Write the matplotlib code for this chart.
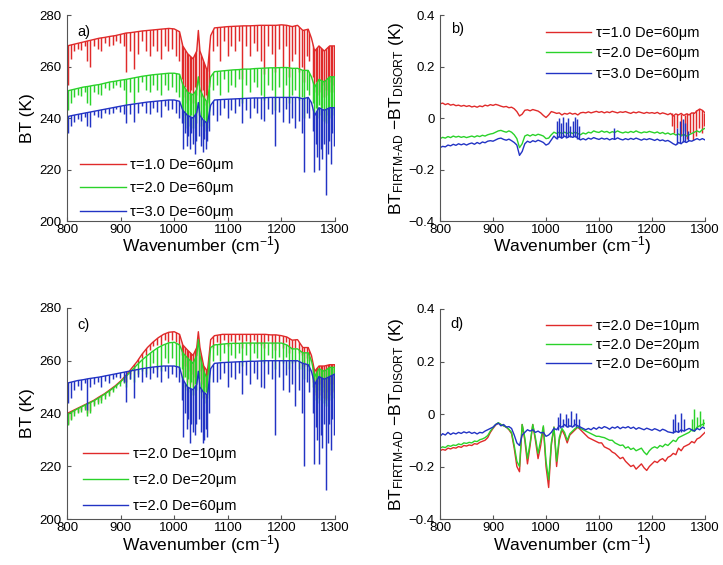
import matplotlib
matplotlib.use('Agg')
import matplotlib.pyplot as plt
from matplotlib.patches import Polygon

plt.rcParams['font.family'] = ['Liberation Sans', 'DejaVu Sans']
plt.rcParams['mathtext.fontset'] = 'custom'
plt.rcParams['mathtext.rm'] = 'Liberation Sans'
plt.rcParams['mathtext.it'] = 'Liberation Sans:italic'

# ---------------- data ----------------
# BT panels: smooth envelope on base_wn, absorption lines on lines_wn
base_wn = [800, 810, 820, 830, 840, 850, 860, 870, 880, 890,
           900, 910, 920, 930, 940, 950, 960, 970, 980, 990,
           1000, 1010, 1016, 1025, 1035, 1042, 1045, 1048, 1055, 1062,
           1068, 1075, 1090, 1100, 1110, 1120, 1130, 1140, 1150, 1160,
           1170, 1180, 1190, 1200, 1210, 1220, 1230, 1240, 1250, 1256,
           1262, 1270, 1280, 1290, 1300]

lines_wn = [802, 807, 813, 820, 827, 833, 838, 843, 850, 857,
            864, 871, 878, 885, 892, 899, 906, 910, 917, 925,
            932, 940, 947, 954, 961, 968, 975, 982, 989, 996,
            1003, 1009,
            1014, 1017, 1020, 1023, 1026, 1029, 1032, 1035, 1038, 1041,
            1047, 1050, 1053, 1056, 1059, 1062, 1065,
            1072, 1079, 1086, 1093, 1100, 1106, 1113, 1120, 1127, 1134,
            1141, 1148, 1155, 1162, 1168, 1175, 1182, 1188, 1195, 1202,
            1208, 1214, 1220, 1226, 1232, 1238, 1242, 1247, 1252,
            1258, 1261, 1264, 1267, 1270, 1273, 1276, 1279, 1283, 1286,
            1289, 1292, 1295, 1298]

# panel a) tau = 1, 2, 3, De = 60 um
a_red_base = [268, 268.5, 269, 269.5, 270, 270.5, 271, 271.3, 271.7, 272,
              272.5, 273, 273.2, 273.5, 273.8, 274, 274.2, 274.4, 274.6, 274.8,
              274.6, 273.5, 268, 265, 263, 266, 274, 266, 262, 258,
              272, 275, 275.3, 275.5, 275.6, 275.7, 275.8, 275.8, 275.9, 276,
              276, 276, 276, 276.2, 276, 275.5, 276, 274, 274.5, 271,
              266, 268, 266, 268, 268]
a_green_base = [250.5, 251, 251.5, 252, 252.3, 252.7, 253, 253.5, 254, 254.3,
                254.7, 255, 255.4, 255.8, 256.2, 256.5, 256.8, 257, 257.2, 257.4,
                257.4, 257, 253, 250, 249, 251, 256, 251, 248, 246,
                256, 258, 258.3, 258.5, 258.7, 258.8, 259, 259, 259.2, 259.3,
                259.4, 259.5, 259.5, 259.6, 259.6, 259.3, 259.3, 258.5, 258.5, 256,
                252, 255, 254, 256, 256]
a_blue_base = [240.5, 241, 241.4, 241.8, 242.2, 242.6, 243, 243.4, 243.8, 244.2,
               244.6, 245, 245.3, 245.6, 245.9, 246.2, 246.4, 246.6, 246.8, 247,
               247, 246.5, 243, 241, 240, 242, 246, 241, 239, 238,
               245, 247, 247.2, 247.3, 247.4, 247.5, 247.6, 247.7, 247.8, 247.8,
               247.9, 248, 248, 248, 248, 248, 248, 247.5, 248, 246,
               241, 244, 243, 244, 244]

a_red_low = [253, 263, 266, 267, 266.5, 268, 262, 260, 268, 267,
             266, 269, 268, 268.5, 270, 269, 268, 258, 266, 259,
             265, 270, 266, 264, 268, 266, 263, 268, 266, 267,
             264, 262,
             255, 248, 252, 246, 250, 247, 251, 246, 252, 249,
             253, 248, 251, 245, 249, 246, 252,
             266, 268, 262, 270, 264, 268, 266, 270, 255, 268,
             264, 269, 266, 262, 257, 268, 265, 258, 267, 260,
             268, 256, 262, 265, 258, 260, 254, 264, 262,
             256, 250, 254, 249, 255, 250, 253, 248, 251, 249,
             254, 250, 253, 250]
a_green_low = [243, 246, 248, 249, 248.5, 250, 246, 245, 250, 249.5,
               249, 251.5, 251, 251.5, 253, 252, 251, 245, 250, 246,
               250, 254, 251, 250, 253, 251, 249, 253, 251, 252,
               250, 248,
               244, 238, 241, 236, 240, 237, 241, 236, 240, 238,
               241, 237, 240, 235, 238, 236, 241,
               251, 253, 249, 255, 250, 253, 252, 255, 246, 253,
               250, 254, 252, 249, 247, 253, 251, 243, 252, 248,
               253, 246, 249, 251, 247, 248, 240, 251, 249,
               246, 241, 244, 240, 245, 241, 244, 239, 238, 241,
               244, 240, 244, 241]
a_blue_low = [234, 237, 238.5, 239.5, 239, 240.5, 237, 236.5, 241, 240.5,
              240, 242, 241.5, 242, 243.5, 242.5, 241.5, 238, 241.5, 238.5,
              242, 244.5, 242, 241.5, 244, 242.5, 240.5, 244.5, 243, 243.5,
              242, 240,
              238, 228, 234, 229, 233, 228, 234, 230, 226, 231,
              233, 229, 227, 232, 228, 231, 235,
              241, 239, 241, 244, 240, 243, 242, 244.5, 238, 243,
              240, 244, 242, 239.5, 239, 243.5, 241.5, 229, 242.5, 238.5,
              243.5, 238, 240, 236, 239, 234, 219, 242, 240,
              235, 219, 230, 225, 220, 228, 224, 230, 210, 226,
              231, 222, 234, 229]

# panel c) tau = 2, De = 10, 20, 60 um
c_red_base = [240, 241, 242, 243, 244, 245, 246.3, 247.5, 249, 250.5,
              252.3, 254.5, 257, 259.5, 262.5, 265, 267, 268.7, 270, 270.8,
              271, 270, 266, 264, 262, 265, 271, 265, 258, 256,
              268, 269.5, 270, 270, 270, 270, 270, 270, 270, 270,
              270, 269.8, 269.8, 269.5, 269, 267.8, 268, 265, 265, 262,
              256, 258, 258, 258.5, 258.5]
c_green_base = [239.5, 240.7, 241.8, 242.8, 243.8, 244.8, 246, 247.3, 248.7, 250.2,
                252, 254, 256.2, 258.3, 260.3, 262, 263.6, 265, 266, 266.8,
                267, 266, 263, 261, 259, 262, 268, 262, 256, 253,
                265, 266, 266.3, 266.5, 266.6, 266.6, 266.7, 266.7, 266.7, 266.7,
                266.7, 266.7, 266.7, 266.7, 266, 264.5, 264.5, 263, 263, 260,
                254, 257, 256, 257.5, 257.5]
c_blue_base = [251.5, 252, 252.5, 252.8, 253.2, 253.5, 253.8, 254.2, 254.6, 255,
               255.4, 255.8, 256.2, 256.6, 257, 257.3, 257.6, 257.8, 258, 258,
               258, 257.5, 253, 250, 249, 251, 256, 250, 248, 247,
               257, 259, 259.3, 259.4, 259.5, 259.6, 259.7, 259.8, 259.8, 259.9,
               260, 260, 260, 260, 260, 260, 260, 259, 258.5, 256,
               251, 254, 253, 254, 255]

c_red_low = [236, 238, 240, 240.5, 241.5, 242, 240, 241, 243.5, 244.5,
             245, 246.5, 247.5, 249, 250.5, 251.5, 252.5, 252, 255, 256,
             259, 261, 262, 264, 265.5, 266, 266, 268, 267, 268,
             267, 266,
             262, 254, 258, 252, 256, 251, 255, 250, 254, 252,
             256, 251, 248, 246, 250, 248, 255,
             265, 267, 266, 268, 265.5, 267.5, 266.5, 268, 265, 267.5,
             266, 268, 266.5, 266, 265, 267.5, 266.5, 264, 267, 265,
             267, 263, 264.5, 265, 263, 262, 258, 261, 260,
             252, 247, 250, 246, 251, 247, 250, 246, 245, 248,
             251, 247, 251, 248]
c_green_low = [235.5, 237.5, 239, 240, 240.5, 241.5, 239, 240, 243, 243.5,
               244, 245.5, 246.5, 248, 249.5, 250.5, 251.5, 250, 253, 252,
               255, 256, 255, 257, 259, 257, 256, 261, 259, 261,
               258, 257,
               257, 250, 254, 249, 253, 248, 252, 247, 251, 249,
               253, 248, 246, 244, 248, 246, 252,
               260, 262, 260, 263, 259.5, 262, 261, 263, 258, 262,
               260, 263, 261, 260, 259, 262, 261, 257, 261.5, 259,
               261.5, 257, 259, 259.5, 257, 257, 253, 258, 256,
               250, 245, 248, 244, 249, 245, 248, 244, 243, 246,
               249, 245, 249, 246]
c_blue_low = [244, 246, 249, 250.5, 249, 251.5, 241.5, 250, 251, 252,
              250, 252.5, 251.5, 253, 254, 253.5, 252, 244.5, 253, 246,
              254, 252, 254, 253, 255.5, 254, 252, 256, 253.5, 255,
              254, 252,
              245, 231, 240, 234, 238, 229, 236, 233, 232, 236,
              238, 233, 229, 230, 234, 231, 240,
              252, 252, 253, 255.5, 250, 254, 253, 255.5, 247.5, 254.5,
              251, 255.5, 253, 250, 249.5, 255, 253, 232, 254, 249,
              254.5, 248, 251, 243, 249, 240, 220, 252, 248,
              240, 221, 235, 230, 221, 232, 227, 236, 211, 229,
              236, 226, 238, 232]

# difference panels, 5 cm-1 sampling
diff_wn = [800, 805, 810, 815, 820, 825, 830, 835, 840, 845,
           850, 855, 860, 865, 870, 875, 880, 885, 890, 895,
           900, 905, 910, 915, 920, 925, 930, 935, 940, 945,
           950, 955, 960, 965, 970, 975, 980, 985, 990, 995,
           1000, 1005, 1010, 1015, 1020, 1025, 1030, 1035, 1040, 1045,
           1050, 1055, 1060, 1065, 1070, 1075, 1080, 1085, 1090, 1095,
           1100, 1105, 1110, 1115, 1120, 1125, 1130, 1135, 1140, 1145,
           1150, 1155, 1160, 1165, 1170, 1175, 1180, 1185, 1190, 1195,
           1200, 1205, 1210, 1215, 1220, 1225, 1230, 1235, 1240, 1245,
           1250, 1255, 1260, 1265, 1270, 1275, 1280, 1285, 1290, 1295,
           1300]

b_red = [0.055, 0.058, 0.052, 0.056, 0.05, 0.053, 0.048, 0.05, 0.046, 0.049,
         0.045, 0.048, 0.043, 0.046, 0.042, 0.047, 0.044, 0.05, 0.047, 0.052,
         0.049, 0.053, 0.05, 0.046, 0.043, 0.045, 0.04, 0.042, 0.036, 0.025,
         0.008, 0.015, 0.03, 0.032, 0.028, 0.033, 0.03, 0.027, 0.02, 0.01,
         0.002, 0.012, 0.025, 0.022, 0.018, 0.02, 0.012, 0.018, 0.015, 0.02,
         0.015, 0.018, 0.012, 0.02, 0.022, 0.02, 0.024, 0.02, 0.023, 0.026,
         0.022, 0.025, 0.02, 0.024, 0.021, 0.026, 0.023, 0.02, 0.024, 0.022,
         0.025, 0.021, 0.018, 0.023, 0.02, 0.024, 0.021, 0.018, 0.022, 0.019,
         0.021, 0.018, 0.022, 0.016, 0.02, 0.017, 0.013, 0.018, 0.008, 0.016,
         0.012, 0.018, 0.01, 0.016, 0.012, 0.02, 0.018, 0.028, 0.035, 0.03,
         0.02]
b_green = [-0.08, -0.075, -0.078, -0.072, -0.076, -0.07, -0.074, -0.071, -0.075, -0.072,
           -0.076, -0.073, -0.07, -0.074, -0.069, -0.072, -0.067, -0.07, -0.065, -0.062,
           -0.06, -0.055, -0.05, -0.048, -0.052, -0.055, -0.05, -0.055, -0.065, -0.08,
           -0.115, -0.1, -0.07, -0.065, -0.07, -0.064, -0.068, -0.063, -0.066, -0.07,
           -0.08, -0.078, -0.065, -0.055, -0.06, -0.055, -0.06, -0.055, -0.06, -0.055,
           -0.06, -0.055, -0.06, -0.065, -0.058, -0.062, -0.055, -0.058, -0.05, -0.054,
           -0.056, -0.05, -0.055, -0.052, -0.058, -0.053, -0.056, -0.05, -0.055, -0.058,
           -0.054, -0.057, -0.052, -0.056, -0.05, -0.055, -0.058, -0.054, -0.056, -0.052,
           -0.055, -0.058, -0.054, -0.06, -0.056, -0.062, -0.058, -0.064, -0.06, -0.066,
           -0.062, -0.068, -0.064, -0.07, -0.065, -0.06, -0.055, -0.05, -0.055, -0.045,
           -0.04]
b_blue = [-0.115, -0.11, -0.112, -0.105, -0.108, -0.102, -0.106, -0.1, -0.104, -0.1,
          -0.105, -0.1, -0.097, -0.102, -0.095, -0.1, -0.093, -0.096, -0.09, -0.088,
          -0.09, -0.085, -0.08, -0.078, -0.083, -0.086, -0.082, -0.088, -0.095, -0.105,
          -0.145, -0.13, -0.1, -0.09, -0.095, -0.088, -0.092, -0.086, -0.09, -0.095,
          -0.105, -0.1, -0.085, -0.07, -0.08, -0.072, -0.078, -0.07, -0.076, -0.07,
          -0.075, -0.07, -0.078, -0.085, -0.08, -0.085, -0.078, -0.082, -0.076, -0.08,
          -0.083, -0.078, -0.082, -0.079, -0.085, -0.08, -0.083, -0.077, -0.082, -0.085,
          -0.08, -0.084, -0.079, -0.083, -0.078, -0.082, -0.086, -0.081, -0.084, -0.08,
          -0.083, -0.087, -0.082, -0.088, -0.085, -0.09, -0.087, -0.093, -0.1, -0.105,
          -0.095, -0.1, -0.09, -0.095, -0.088, -0.09, -0.085, -0.08, -0.085, -0.08,
          -0.085]

b_red_spk_wn = [1238, 1242, 1248, 1255, 1262, 1266, 1272, 1277, 1283, 1288, 1294, 1298]
b_red_spk_lo = [-0.03, -0.06, -0.04, -0.07, -0.05, -0.08, -0.06, -0.085, -0.07, -0.04, -0.06, -0.03]
b_red_spk_hi = [0.018, 0.012, 0.015, 0.016, 0.012, 0.02, 0.02, 0.025, 0.032, 0.035, 0.032, 0.02]
b_blue_spk_wn = [1021, 1025, 1029, 1033, 1037, 1041, 1046, 1050, 1054, 1058, 1062,
                 1128, 1248, 1253, 1258, 1263, 1268]
b_blue_spk_lo = [-0.08, -0.075, -0.078, -0.075, -0.078, -0.072, -0.075, -0.072, -0.075, -0.08, -0.082,
                 -0.08, -0.1, -0.098, -0.095, -0.092, -0.09]
b_blue_spk_hi = [-0.01, 0.0, -0.02, 0.005, -0.015, 0.0, -0.03, -0.01, 0.005, -0.005, -0.03,
                 -0.04, -0.04, -0.01, -0.005, -0.02, -0.05]

d_red = [-0.14, -0.135, -0.138, -0.13, -0.133, -0.128, -0.13, -0.124, -0.127, -0.12,
         -0.122, -0.118, -0.12, -0.113, -0.115, -0.108, -0.104, -0.1, -0.09, -0.07,
         -0.055, -0.042, -0.035, -0.04, -0.045, -0.05, -0.06, -0.075, -0.13, -0.2,
         -0.22, -0.04, -0.1, -0.19, -0.12, -0.04, -0.1, -0.17, -0.12, -0.05,
         -0.2, -0.28, -0.12, -0.05, -0.2, -0.1, -0.06, -0.08, -0.11, -0.08,
         -0.07, -0.06, -0.05, -0.06, -0.07, -0.08, -0.09, -0.095, -0.1, -0.105,
         -0.11, -0.11, -0.125, -0.13, -0.135, -0.145, -0.15, -0.16, -0.17, -0.165,
         -0.18, -0.19, -0.2, -0.195, -0.21, -0.2, -0.19, -0.205, -0.215, -0.2,
         -0.19, -0.18, -0.185, -0.175, -0.17, -0.18, -0.165, -0.16, -0.15, -0.155,
         -0.13, -0.14, -0.125, -0.12, -0.115, -0.105, -0.11, -0.095, -0.09, -0.08,
         -0.07]
d_green = [-0.13, -0.125, -0.128, -0.12, -0.123, -0.118, -0.12, -0.114, -0.117, -0.11,
           -0.112, -0.108, -0.11, -0.103, -0.105, -0.098, -0.095, -0.09, -0.082, -0.065,
           -0.052, -0.04, -0.033, -0.04, -0.045, -0.05, -0.058, -0.07, -0.12, -0.18,
           -0.2, -0.04, -0.09, -0.17, -0.11, -0.04, -0.09, -0.15, -0.1, -0.045,
           -0.18, -0.25, -0.11, -0.05, -0.18, -0.09, -0.055, -0.07, -0.1, -0.075,
           -0.065, -0.055, -0.05, -0.055, -0.06, -0.065, -0.07, -0.075, -0.08, -0.085,
           -0.085, -0.088, -0.09, -0.095, -0.1, -0.1, -0.11, -0.115, -0.12, -0.118,
           -0.13, -0.125, -0.135, -0.13, -0.14, -0.135, -0.13, -0.145, -0.155, -0.14,
           -0.13, -0.125, -0.13, -0.12, -0.125, -0.115, -0.12, -0.11, -0.1, -0.105,
           -0.09, -0.085, -0.08, -0.075, -0.07, -0.06, -0.065, -0.05, -0.045, -0.04,
           -0.035]
d_blue = [-0.085, -0.075, -0.08, -0.07, -0.078, -0.072, -0.076, -0.07, -0.074, -0.068,
          -0.072, -0.068, -0.074, -0.07, -0.076, -0.07, -0.072, -0.065, -0.06, -0.055,
          -0.05, -0.04, -0.035, -0.045, -0.04, -0.05, -0.048, -0.055, -0.08, -0.11,
          -0.12, -0.08, -0.07, -0.06, -0.065, -0.06, -0.07, -0.065, -0.072, -0.07,
          -0.085, -0.08, -0.07, -0.055, -0.06, -0.045, -0.05, -0.04, -0.05, -0.045,
          -0.05, -0.04, -0.045, -0.05, -0.055, -0.06, -0.055, -0.06, -0.052, -0.058,
          -0.05, -0.055, -0.048, -0.052, -0.058, -0.05, -0.054, -0.048, -0.056, -0.05,
          -0.053, -0.048, -0.055, -0.05, -0.058, -0.052, -0.056, -0.06, -0.054, -0.058,
          -0.062, -0.056, -0.06, -0.065, -0.058, -0.062, -0.068, -0.07, -0.072, -0.065,
          -0.07, -0.06, -0.065, -0.06, -0.055, -0.06, -0.065, -0.055, -0.06, -0.05,
          -0.055]

d_blue_spk_wn = [1022, 1027, 1032, 1037, 1042, 1047, 1052, 1057, 1062, 1240, 1244, 1250, 1254, 1260]
d_blue_spk_lo = [-0.06, -0.055, -0.05, -0.045, -0.05, -0.045, -0.045, -0.05, -0.055,
                 -0.072, -0.07, -0.068, -0.068, -0.065]
d_blue_spk_hi = [-0.01, 0.005, -0.02, 0.0, -0.015, 0.01, -0.02, 0.005, -0.02,
                 -0.02, 0.0, -0.03, 0.005, -0.02]
d_green_spk_wn = [1276, 1280, 1285, 1290, 1296]
d_green_spk_lo = [-0.065, -0.065, -0.055, -0.05, -0.045]
d_green_spk_hi = [-0.02, 0.02, -0.01, 0.01, -0.02]

labels_ab = ['\u03c4=1.0 De=60\u03bcm', '\u03c4=2.0 De=60\u03bcm', '\u03c4=3.0 De=60\u03bcm']
labels_cd = ['\u03c4=2.0 De=10\u03bcm', '\u03c4=2.0 De=20\u03bcm', '\u03c4=2.0 De=60\u03bcm']
colors = ['#e02a2a', '#2ad22a', '#2233c4']

# ---------------- figure ----------------
fig = plt.figure(figsize=(7.23, 5.65), dpi=100)
ax_a = fig.add_axes([0.0927, 0.6088, 0.3707, 0.3646])
ax_b = fig.add_axes([0.6086, 0.6088, 0.3665, 0.3646])
ax_c = fig.add_axes([0.0927, 0.0814, 0.3707, 0.3735])
ax_d = fig.add_axes([0.6086, 0.0814, 0.3665, 0.3717])

LW = 1.0      # envelope / curve width
SPK_LW = 1.05  # absorption line width


def style(ax):
    for s in ['top', 'right']:
        ax.spines[s].set_visible(False)
    for s in ['left', 'bottom']:
        ax.spines[s].set_color('#555555')
        ax.spines[s].set_linewidth(0.8)
    ax.tick_params(direction='in', length=3, width=0.8, color='#555555',
                   labelsize=9.5)
    ax.tick_params(axis='x', pad=2)
    ax.tick_params(axis='y', pad=4)
    ax.set_xlim(800, 1300)
    ax.set_xticks([800, 900, 1000, 1100, 1200, 1300])
    ax.set_xlabel('Wavenumber (cm$^{-1}$)', fontsize=12.5)
    ax.xaxis.set_label_coords(0.5, -0.065)


def bt_panel(ax, bases, lows, labels, tag, leg_xy, spacing):
    handles = []
    for base, low, col in zip(bases, lows, colors):
        h, = ax.plot(base_wn, base, color=col, lw=LW)
        edge = Polygon(list(zip(base_wn + [1300, 800], base + [150, 150])),
                       closed=True, transform=ax.transData)
        spk = ax.vlines(lines_wn, low, 290, colors=col, lw=SPK_LW)
        spk.set_clip_path(edge)
        handles.append(h)
    style(ax)
    ax.set_ylim(200, 280)
    ax.set_yticks([200, 220, 240, 260, 280])
    ax.set_ylabel('BT (K)', fontsize=12.5)
    ax.yaxis.set_label_coords(-0.12, 0.5)
    ax.text(0.04, 0.92, tag, transform=ax.transAxes, fontsize=10.5, va='center')
    ax.legend(handles, labels, loc='lower left', bbox_to_anchor=leg_xy,
              frameon=False, fontsize=10.5, handlelength=3.1, handletextpad=0.3,
              labelspacing=spacing, borderpad=0, borderaxespad=0)


def diff_panel(ax, series, spikes, labels, tag, leg_xy, spacing):
    handles = []
    for vals, col in zip(series, colors):
        h, = ax.plot(diff_wn, vals, color=col, lw=LW)
        handles.append(h)
        if col in spikes:
            sw, slo, shi = spikes[col]
            ax.vlines(sw, slo, shi, colors=col, lw=SPK_LW)
    style(ax)
    ax.set_ylim(-0.4, 0.4)
    ax.set_yticks([-0.4, -0.2, 0, 0.2, 0.4], ['\u22120.4', '\u22120.2', '0', '0.2', '0.4'])
    ax.set_ylabel(r'BT$_{\mathrm{FIRTM\text{-}AD}}$ $-$BT$_{\mathrm{DISORT}}$ (K)', fontsize=12.5)
    ax.yaxis.set_label_coords(-0.13, 0.5)
    ax.text(0.04, 0.93, tag, transform=ax.transAxes, fontsize=10.5, va='center')
    ax.legend(handles, labels, loc='upper left', bbox_to_anchor=leg_xy,
              frameon=False, fontsize=10.5, handlelength=3.1, handletextpad=0.3,
              labelspacing=spacing, borderpad=0, borderaxespad=0)


bt_panel(ax_a, [a_red_base, a_green_base, a_blue_base],
         [a_red_low, a_green_low, a_blue_low], labels_ab, 'a)', (0.05, 0.01), 0.65)
bt_panel(ax_c, [c_red_base, c_green_base, c_blue_base],
         [c_red_low, c_green_low, c_blue_low], labels_cd, 'c)', (0.06, 0.03), 0.8)
diff_panel(ax_b, [b_red, b_green, b_blue],
           {colors[0]: (b_red_spk_wn, b_red_spk_lo, b_red_spk_hi),
            colors[2]: (b_blue_spk_wn, b_blue_spk_lo, b_blue_spk_hi)},
           labels_ab, 'b)', (0.40, 0.945), 0.42)
diff_panel(ax_d, [d_red, d_green, d_blue],
           {colors[1]: (d_green_spk_wn, d_green_spk_lo, d_green_spk_hi),
            colors[2]: (d_blue_spk_wn, d_blue_spk_lo, d_blue_spk_hi)},
           labels_cd, 'd)', (0.40, 0.95), 0.33)

fig.savefig('out.png', dpi=100)
